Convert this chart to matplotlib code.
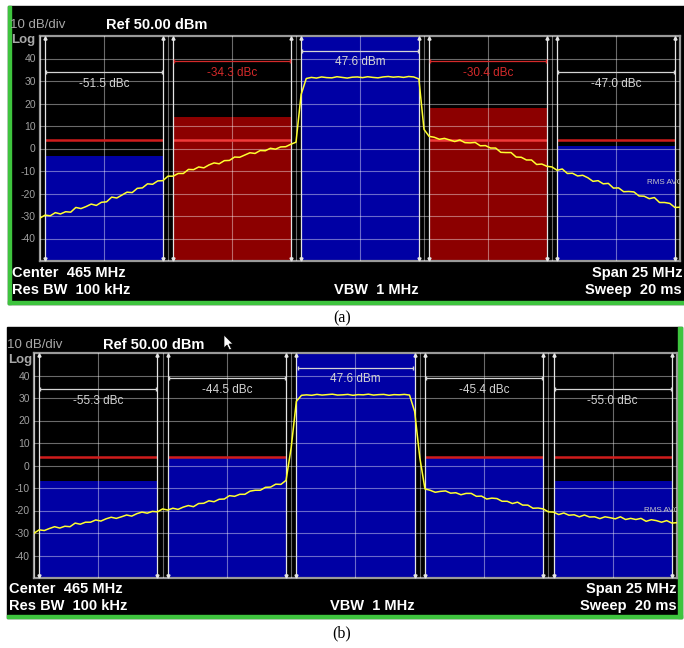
import matplotlib
matplotlib.use("Agg")
import matplotlib.pyplot as plt
import numpy as np
from matplotlib.patches import Rectangle, Polygon

plt.rcParams['font.family'] = ['Liberation Sans', 'DejaVu Sans']

# sweep points (MHz), span 25 MHz around 465 MHz
freq = np.linspace(452.5, 477.5, 126)
ch_centers = [455.0, 460.0, 465.0, 470.0, 475.0]
ch_width = 4.6
ytick_vals = [40, 30, 20, 10, 0, -10, -20, -30, -40]
bracket_lvl = [33.8, 38.7, 43.5, 38.7, 33.8]
limit_lvl = [4.0, 4.0, None, 4.0, 4.0]

# ---- panel (a) ----
trace_a = [
    -30.9, -29.6, -29.9, -28.5, -29.1, -28.1, -28.3, -26.2, -26.7, -25.8,
    -24.7, -25.3, -23.9, -23.7, -21.6, -22.0, -20.7, -19.4, -19.6, -17.7,
    -17.5, -15.7, -15.9, -14.4, -14.3, -12.3, -12.3, -11.1, -11.1, -9.3,
    -9.4, -8.2, -8.6, -7.3, -6.4, -6.8, -5.4, -5.3, -3.8, -3.9,
    -2.9, -1.9, -2.2, -0.9, -1.0, 0.1, -0.3, 0.7, 0.8, 1.9, 2.8,
    24.0, 31.1,
    31.6, 31.3, 31.8, 31.5, 31.4, 31.9, 31.6, 31.3, 31.7, 31.8, 31.5,
    31.9, 31.6, 31.4, 31.8, 32.0, 31.7, 31.9, 31.6, 32.0, 31.8,
    30.9, 8.5, 5.4,
    5.0, 4.1, 4.5, 3.8, 3.1, 3.8, 2.6, 2.5, 2.7, 1.2,
    1.3, 0.2, 0.2, -1.7, -1.8, -1.8, -3.8, -3.9, -5.1, -5.1,
    -7.1, -6.9, -7.9, -8.2, -9.7, -9.1, -11.1, -11.0, -12.2, -11.9,
    -13.0, -14.6, -14.3, -15.7, -15.5, -17.6, -17.5, -19.2, -19.1, -19.3,
    -21.1, -21.2, -22.3, -21.8, -24.0, -24.0, -24.4, -26.2, -26.1,
]
fill_a = [-3.5, 13.8, 49.5, 17.8, 1.3]
fail_a = [False, True, False, True, False]
result_a = ['-51.5 dBc', '-34.3 dBc', '47.6 dBm', '-30.4 dBc', '-47.0 dBc']

# ---- panel (b) ----
trace_b = [
    -30.1, -28.6, -28.9, -28.0, -27.2, -27.8, -27.0, -27.2, -25.6, -26.1,
    -25.2, -25.2, -24.2, -24.7, -23.7, -23.0, -23.5, -22.8, -22.0, -22.5,
    -21.4, -20.7, -21.2, -20.4, -20.6, -19.3, -19.8, -19.0, -19.5, -18.5,
    -17.8, -18.3, -16.9, -16.8, -15.7, -16.1, -15.0, -14.9, -13.4, -13.7,
    -12.8, -12.8, -11.4, -11.0, -11.0, -9.7, -9.6, -8.3, -8.4, -6.6, 8.0,
    28.5, 31.2,
    31.4, 31.2, 31.6, 31.3, 31.5, 31.7, 31.3, 31.4, 31.6, 31.2, 31.5,
    31.4, 31.7, 31.3, 31.5, 31.6, 31.2, 31.5, 31.4, 31.6, 31.3,
    24.0, 3.5, -10.4,
    -11.0, -11.9, -11.5, -11.3, -12.3, -12.1, -13.0, -12.4, -12.4, -13.7,
    -13.6, -14.9, -14.5, -14.7, -15.9, -15.9, -16.9, -16.3, -17.6, -17.6,
    -19.0, -18.9, -19.3, -20.6, -20.7, -21.8, -21.1, -22.1, -21.9, -22.8,
    -22.0, -22.9, -22.8, -23.6, -22.8, -23.2, -23.7, -22.8, -24.0, -23.5,
    -24.0, -23.5, -24.8, -24.1, -24.5, -25.2, -24.5, -25.6, -25.4,
]
fill_b = [-7.0, 3.5, 49.5, 3.5, -7.0]
fail_b = [False, False, False, False, False]
result_b = ['-55.3 dBc', '-44.5 dBc', '47.6 dBm', '-45.4 dBc', '-55.0 dBc']

BLUE = '#0000a4'
DARKRED = '#8c0000'
LIMIT = '#d01c1c'
LIMIT_FAIL = '#f03a3a'
TXTRED = '#d42a2a'
TXTGRAY = '#d4d4d4'
GREEN = '#3ec43e'
W, H = 684, 648


def draw_panel(ax, trace, fills, fails, results, rms_y):
    ax.set_facecolor('black')
    ax.set_xlim(452.5, 477.5)
    ax.set_ylim(-50, 50)
    colors = [DARKRED if f else BLUE for f in fails]
    ax.bar(ch_centers, [v + 50 for v in fills], bottom=-50, width=ch_width,
           color=colors, zorder=1)
    for c, lim, f in zip(ch_centers, limit_lvl, fails):
        if lim is not None:
            ax.hlines(lim, c - ch_width / 2, c + ch_width / 2,
                      color=LIMIT_FAIL if f else LIMIT, lw=1.8, zorder=2.6)
    edges = [c + s * ch_width / 2 for c in ch_centers for s in (-1, 1)]
    ax.vlines(edges, -50, 50, color='#e4e4e4', lw=0.9, zorder=3)
    ax.plot(edges, [49.2] * len(edges), ls='none', marker='^', ms=2.2,
            color='#e4e4e4', zorder=3)
    ax.plot(edges, [-49.2] * len(edges), ls='none', marker='v', ms=2.2,
            color='#e4e4e4', zorder=3)
    ax.plot(freq, trace, color='#ffff30', lw=1.1, zorder=4)
    for c, lvl, txt, f in zip(ch_centers, bracket_lvl, results, fails):
        col = TXTRED if f else TXTGRAY
        ax.plot([c - ch_width / 2 + 0.05, c + ch_width / 2 - 0.05], [lvl, lvl],
                color=col, lw=0.9, marker='|', ms=3, zorder=5)
        ax.text(c, lvl - 5, txt, color=col, fontsize=8.5, ha='center',
                va='center', zorder=5)
    ax.text(476.2, rms_y, 'RMS AVG', color='#c8c8c8', fontsize=5.8,
            va='center', ha='left', zorder=5, clip_on=True)
    ax.set_xticks(np.arange(452.5, 477.6, 2.5))
    ax.set_xticklabels([])
    ax.set_yticks(ytick_vals)
    ax.set_yticklabels([str(v) for v in ytick_vals], color='#a0a0a0',
                       fontsize=7.5)
    ax.tick_params(length=0, pad=3)
    ax.set_axisbelow(False)
    ax.grid(True, color='white', alpha=0.42, lw=0.8)
    for sp in ax.spines.values():
        sp.set_color('#9a9a9a')
        sp.set_linewidth(1.6)


fig = plt.figure(figsize=(6.84, 6.48), dpi=100)
fig.patch.set_facecolor('white')

bg = fig.add_axes([0, 0, 1, 1], zorder=0)
bg.set_xlim(0, W)
bg.set_ylim(H, 0)
bg.axis('off')
# panel (a) screen
bg.add_patch(Rectangle((8, 6), 676, 298, color='black'))
bg.add_patch(Rectangle((8, 6), 3, 298, color=GREEN))
bg.add_patch(Rectangle((8, 301), 676, 3, color=GREEN))
# panel (b) screen
bg.add_patch(Rectangle((7, 327), 675, 291, color='black'))
bg.add_patch(Rectangle((678, 327), 4, 291, color=GREEN))
bg.add_patch(Rectangle((7, 615), 675, 3, color=GREEN))

ax_a = fig.add_axes([40 / W, 1 - 261 / H, 640 / W, 225 / H], zorder=1)
draw_panel(ax_a, trace_a, fill_a, fail_a, result_a, -15)
ax_b = fig.add_axes([34 / W, 1 - 578 / H, 643 / W, 225 / H], zorder=1)
draw_panel(ax_b, trace_b, fill_b, fail_b, result_b, -20)

top = fig.add_axes([0, 0, 1, 1], zorder=10)
top.set_xlim(0, W)
top.set_ylim(H, 0)
top.axis('off')

bold = dict(color='white', fontsize=10.5, fontweight='bold', va='center')
gray = dict(color='#a8a8a8', fontsize=9.5, va='center')

for (x0, y0, xr, yb, xv) in [(10, 25, 682, 273, 334), (7, 345, 677, 589, 330)]:
    top.text(x0, y0, '10 dB/div', **gray)
    top.text(x0 + 96, y0, 'Ref 50.00 dBm', **bold)
    top.text(x0 + 1, y0 + 15, 'Log', fontweight='bold', **gray)
    top.text(x0 + 2, yb, 'Center  465 MHz', **bold)
    top.text(x0 + 2, yb + 17, 'Res BW  100 kHz', **bold)
    top.text(xv, yb + 17, 'VBW  1 MHz', **bold)
    top.text(xr, yb, 'Span 25 MHz', ha='right', **bold)
    top.text(xr, yb + 17, 'Sweep  20 ms', ha='right', **bold)

top.text(342, 318, '(a)', family='Liberation Serif', fontsize=11.5,
         ha='center', va='center', color='black')
top.text(342, 633, '(b)', family='Liberation Serif', fontsize=11.5,
         ha='center', va='center', color='black')

# mouse pointer left on the screen
cur = np.array([(0, 0), (0, 13), (3, 10), (5.5, 15), (7.5, 14), (5, 9), (9, 9)])
top.add_patch(Polygon(cur + [224, 335], closed=True, facecolor='white',
                      edgecolor='black', lw=0.5))

fig.savefig('out.png', dpi=100, facecolor='white')
